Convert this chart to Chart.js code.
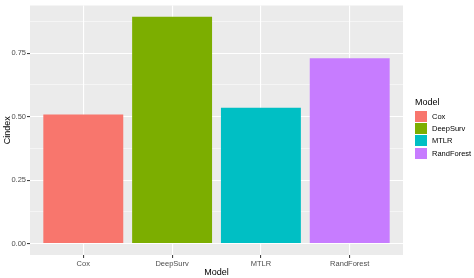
<!DOCTYPE html>
<html>
<head>
<meta charset="utf-8">
<script src="https://cdn.jsdelivr.net/npm/chart.js@4"></script>
<style>
    body { margin: 0; background: #fff; }
    #wrap { position: relative; width: 474px; height: 278px; }
    #legend { position: absolute; left: 415px; top: 97px; font-family: "Liberation Sans", Arial, sans-serif; }
    #legend .title { font-size: 9px; color: #000; height: 13px; }
    #legend .item { display: flex; align-items: center; height: 12.3px; font-size: 7.5px; color: #000; }
    #legend .key { width: 12px; height: 11px; margin-right: 5px; }
</style>
</head>
<body>
<div id="wrap">
    <canvas id="chart" width="474" height="278"></canvas>
    <div id="legend"></div>
</div>
<script>
const models = ["Cox", "DeepSurv", "MTLR", "RandForest"];
const cindex = [0.508, 0.893, 0.535, 0.730];
const colors = ["#F8766D", "#7CAE00", "#00BFC4", "#C77CFF"];
const yTicks = [0, 0.125, 0.25, 0.375, 0.5, 0.625, 0.75, 0.875];

// fond gris du panneau (style ggplot)
const panelBg = {
    id: 'panelBg',
    beforeDraw(chart) {
        const {ctx, chartArea: a} = chart;
        ctx.save();
        ctx.fillStyle = '#EBEBEB';
        ctx.fillRect(a.left, a.top, a.right - a.left, a.bottom - a.top);
        ctx.restore();
    }
};

const isMajor = v => Math.abs(v * 4 - Math.round(v * 4)) < 1e-6;

new Chart(document.getElementById("chart").getContext("2d"), {
    type: 'bar',
    data: {
        datasets: [{
            label: "Cindex",
            data: models.map((m, i) => ({x: i + 1, y: cindex[i]})),
            backgroundColor: colors,
            borderWidth: 0,
            barPercentage: 0.9,
            categoryPercentage: 1
        }]
    },
    options: {
        responsive: false,
        animation: false,
        layout: { padding: { top: 4, right: 71, left: 0, bottom: 0 } },
        plugins: { legend: { display: false }, tooltip: { enabled: false } },
        scales: {
            x: {
                type: 'linear',
                min: 0.4,
                max: 4.6,
                offset: false,
                afterBuildTicks: s => { s.ticks = [1, 2, 3, 4].map(v => ({value: v})); },
                afterFit: s => { s.height = 23; },
                border: { display: false },
                grid: { offset: false, color: '#FFFFFF', lineWidth: 1.1, tickColor: '#444444', tickLength: 3 },
                ticks: {
                    callback: v => models[v - 1],
                    color: '#4D4D4D',
                    font: { family: 'Liberation Sans', size: 7.5 },
                    padding: 1,
                    maxRotation: 0
                },
                title: {
                    display: true,
                    text: "Model",
                    color: '#000',
                    font: { family: 'Liberation Sans', size: 9 },
                    padding: { top: 0, bottom: 0 }
                }
            },
            y: {
                min: -0.0446,
                max: 0.9375,
                afterBuildTicks: s => { s.ticks = yTicks.map(v => ({value: v})); },
                afterFit: s => { s.width = 30; },
                border: { display: false },
                grid: {
                    color: '#FFFFFF',
                    lineWidth: c => isMajor(c.tick.value) ? 1.1 : 0.5,
                    tickColor: c => isMajor(c.tick.value) ? '#444444' : 'rgba(0,0,0,0)',
                    tickLength: 3
                },
                ticks: {
                    callback: v => isMajor(v) ? v.toFixed(2) : '',
                    color: '#4D4D4D',
                    font: { family: 'Liberation Sans', size: 7.5 },
                    padding: 1
                },
                title: {
                    display: true,
                    text: "Cindex",
                    color: '#000',
                    font: { family: 'Liberation Sans', size: 9 },
                    padding: { top: 2, bottom: 0 }
                }
            }
        }
    },
    plugins: [panelBg]
});

// légende à droite
const legend = document.getElementById("legend");
legend.innerHTML = '<div class="title">Model</div>' + models.map((m, i) =>
    `<div class="item"><span class="key" style="background:${colors[i]}"></span>${m}</div>`
).join('');
</script>
</body>
</html>
